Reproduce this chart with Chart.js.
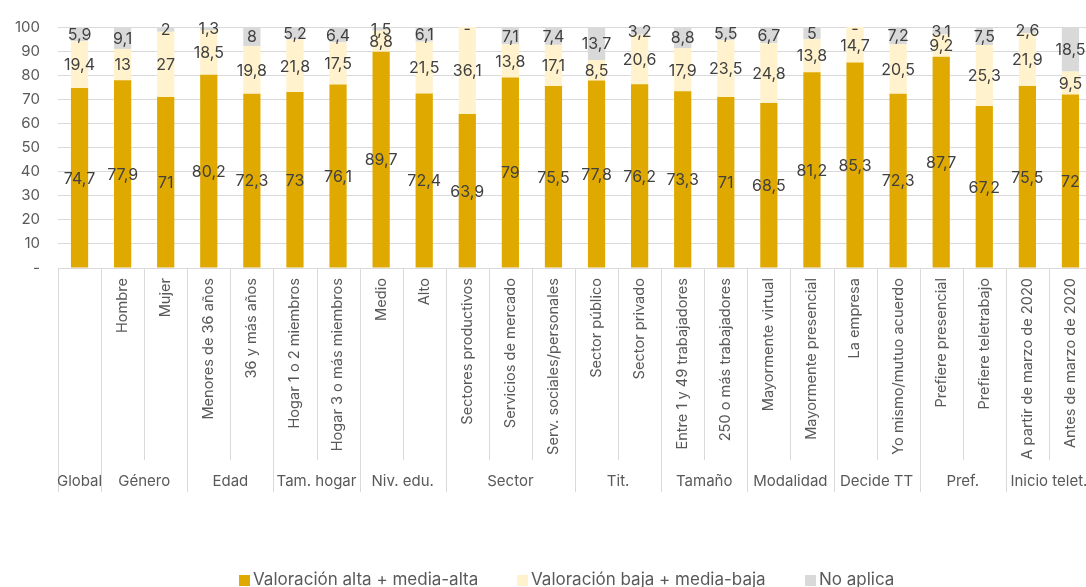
<!DOCTYPE html>
<html>
<head>
<meta charset="utf-8">
<script src="https://cdn.jsdelivr.net/npm/chart.js@4.4.1/dist/chart.umd.min.js"></script>
<style>
  html, body { margin: 0; padding: 0; background: #ffffff; overflow: hidden; }
  #wrap { position: relative; width: 1092px; height: 587px; }
</style>
</head>
<body>
<div id="wrap"><canvas id="c"></canvas></div>
<script>
const categories = [
  'Global', 'Hombre', 'Mujer', 'Menores de 36 años', '36 y más años',
  'Hogar 1 o 2 miembros', 'Hogar 3 o más miembros', 'Medio', 'Alto',
  'Sectores productivos', 'Servicios de mercado', 'Serv. sociales/personales',
  'Sector público', 'Sector privado', 'Entre 1 y 49 trabajadores', '250 o más trabajadores',
  'Mayormente virtual', 'Mayormente presencial', 'La empresa', 'Yo mismo/mutuo acuerdo',
  'Prefiere presencial', 'Prefiere teletrabajo', 'A partir de marzo de 2020', 'Antes de marzo de 2020'
];
const groupNames = ['Global', 'Género', 'Edad', 'Tam. hogar', 'Niv. edu.', 'Sector', 'Tit.', 'Tamaño', 'Modalidad', 'Decide TT', 'Pref.', 'Inicio telet.'];
const groupSizes = [1, 2, 2, 2, 2, 3, 2, 2, 2, 2, 2, 2];

const valAlta = [74.7, 77.9, 71, 80.2, 72.3, 73, 76.1, 89.7, 72.4, 63.9, 79, 75.5, 77.8, 76.2, 73.3, 71, 68.5, 81.2, 85.3, 72.3, 87.7, 67.2, 75.5, 72];
const valBaja = [19.4, 13, 27, 18.5, 19.8, 21.8, 17.5, 8.8, 21.5, 36.1, 13.8, 17.1, 8.5, 20.6, 17.9, 23.5, 24.8, 13.8, 14.7, 20.5, 9.2, 25.3, 21.9, 9.5];
const noAplica = [5.9, 9.1, 2, 1.3, 8, 5.2, 6.4, 1.5, 6.1, 0, 7.1, 7.4, 13.7, 3.2, 8.8, 5.5, 6.7, 5, 0, 7.2, 3.1, 7.5, 2.6, 18.5];

const seriesNames = ['Valoración alta + media-alta', 'Valoración baja + media-baja', 'No aplica'];
const seriesColors = ['#E0A900', '#FFF2CC', '#D9D9D9'];

const FONT = 'Inter, "Liberation Sans", sans-serif';
const TXT = '#595959';
const LINE = '#D9D9D9';

const fmt = v => String(v).replace('.', ',');

const overlay = {
  id: 'overlay',
  afterDatasetsDraw(chart) {
    const ctx = chart.ctx;
    ctx.save();
    ctx.font = '16px ' + FONT;
    ctx.fillStyle = '#404040';
    ctx.textAlign = 'center';
    ctx.textBaseline = 'middle';
    chart.data.datasets.forEach((ds, di) => {
      const meta = chart.getDatasetMeta(di);
      meta.data.forEach((el, i) => {
        const v = ds.data[i];
        if (v === 0) {
          ctx.fillText('-', el.x, el.y + 2);
        } else {
          ctx.fillText(fmt(v), el.x, (el.y + el.base) / 2 + 1);
        }
      });
    });
    ctx.restore();
  },
  afterDraw(chart) {
    const ctx = chart.ctx;
    const xs = chart.scales.x;
    const area = chart.chartArea;
    const step = xs.getPixelForValue(1) - xs.getPixelForValue(0);
    const edge = i => xs.getPixelForValue(0) - step / 2 + i * step;
    const groupEdges = new Set([0]);
    let acc = 0;
    groupSizes.forEach(s => { acc += s; groupEdges.add(acc); });

    ctx.save();
    ctx.strokeStyle = LINE;
    ctx.lineWidth = 1;
    for (let i = 0; i <= categories.length; i++) {
      const x = Math.round(edge(i)) + 0.5;
      const bottom = groupEdges.has(i) ? 492 : 460;
      ctx.beginPath();
      ctx.moveTo(x, area.bottom);
      ctx.lineTo(x, bottom);
      ctx.stroke();
    }

    // category labels
    ctx.fillStyle = TXT;
    ctx.font = '14.6px ' + FONT;
    ctx.textAlign = 'right';
    ctx.textBaseline = 'middle';
    categories.forEach((c, i) => {
      if (i === 0) return;
      const x = xs.getPixelForValue(i);
      ctx.save();
      ctx.translate(x, area.bottom + 10);
      ctx.rotate(-Math.PI / 2);
      ctx.fillText(c, 0, 0);
      ctx.restore();
    });

    // group labels
    ctx.textAlign = 'center';
    ctx.font = '15px ' + FONT;
    let start = 0;
    groupNames.forEach((g, gi) => {
      const end = start + groupSizes[gi];
      const cx = (edge(start) + edge(end)) / 2;
      ctx.fillText(g, cx, 481);
      start = end;
    });

    // legend
    const legX = [239, 517, 805];
    ctx.font = '17px ' + FONT;
    ctx.textAlign = 'left';
    seriesNames.forEach((n, i) => {
      ctx.fillStyle = seriesColors[i];
      ctx.fillRect(legX[i], 575, 11, 11);
      ctx.fillStyle = TXT;
      ctx.fillText(n, legX[i] + 14, 580);
    });
    ctx.restore();
  }
};

new Chart(document.getElementById('c'), {
  type: 'bar',
  data: {
    labels: categories,
    datasets: [
      { label: seriesNames[0], data: valAlta, backgroundColor: seriesColors[0] },
      { label: seriesNames[1], data: valBaja, backgroundColor: seriesColors[1] },
      { label: seriesNames[2], data: noAplica, backgroundColor: seriesColors[2] }
    ]
  },
  options: {
    responsive: true,
    maintainAspectRatio: false,
    animation: false,
    layout: { padding: { left: 0, top: 23, right: 0, bottom: 319 } },
    datasets: { bar: { barPercentage: 0.4, categoryPercentage: 1 } },
    plugins: { legend: { display: false }, tooltip: { enabled: false } },
    scales: {
      x: { stacked: true, display: false },
      y: {
        stacked: true,
        min: 0, max: 100,
        border: { display: false },
        grid: { color: LINE, lineWidth: 1, drawTicks: false },
        ticks: {
          stepSize: 10,
          padding: 18,
          color: TXT,
          font: { family: FONT, size: 15 },
          callback: v => v === 0 ? '-' : v
        },
        afterFit(scale) { scale.width = 58; }
      }
    }
  },
  plugins: [overlay]
});
</script>
</body>
</html>
